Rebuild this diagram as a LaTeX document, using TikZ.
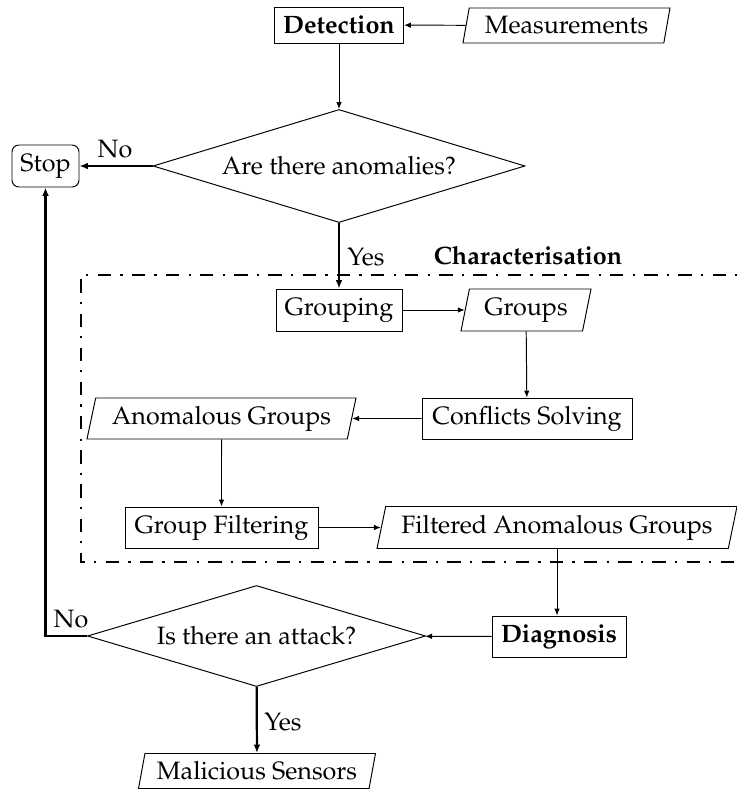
\documentclass[tikz,border=0pt]{standalone}
\usepackage[T1]{fontenc}
\usepackage{mathpazo}
\usetikzlibrary{shapes.geometric,arrows.meta}
\newcommand\figfont{\fontsize{9.05}{11}\selectfont}
\begin{document}
\begin{tikzpicture}[x=0.36pt,y=-0.36pt,
  every node/.style={font=\figfont},
  sz/.style 2 args={minimum width={#1*0.36pt}, minimum height={#2*0.36pt}},
  base/.style={draw, inner sep=0pt, line width=0.35pt},
  procbox/.style={base, rectangle},
  stopbox/.style={base, rectangle, rounded corners=2.5pt},
  iobox/.style={base, trapezium, trapezium left angle=71, trapezium right angle=109, trapezium stretches body},
  decbox/.style={base, diamond, aspect=3.3},
  flow/.style={-{Latex[length=2.5pt,width=2pt]}, line width=0.35pt},
  flowthick/.style={-{Latex[length=3pt,width=2.4pt]}, line width=0.8pt},
  lbl/.style={inner sep=0pt},
  boldtext/.style={font=\figfont\bfseries},
  charframe/.style={line width=0.8pt, dash pattern=on 4.8pt off 3.3pt on 0.8pt off 3.4pt}]
\useasboundingbox (0,0) rectangle (737,790);

% characterisation frame (right side runs off the page)
\draw[charframe] (760,275) -- (81,275) -- (81,562) -- (760,562);
\node[lbl, boldtext] (chartitle) at (528,256) {Characterisation};

\node[procbox, sz={129}{36}, boldtext] (det) at (339,25) {Detection};
\node[iobox, sz={207}{35}] (meas) at (566.5,25.5) {Measurements};
\node[decbox, sz={372}{113}] (anom) at (339,166) {Are there anomalies?};
\node[stopbox, sz={67}{42}] (stop) at (45.5,166) {Stop};

\node[procbox, sz={126}{42}] (grp) at (339,310) {Grouping};
\node[iobox, sz={130}{42}] (groups) at (526,310) {Groups};
\node[procbox, sz={210}{41}] (conf) at (527,418.5) {Conflicts Solving};
\node[iobox, sz={269}{41}] (ag) at (221.5,418.5) {Anomalous Groups};
\node[procbox, sz={193}{41}] (gf) at (221.5,527.5) {Group Filtering};
\node[iobox, sz={360}{42}] (fag) at (557,527.5) {Filtered Anomalous Groups};

\node[procbox, sz={134}{41}, boldtext] (diag) at (559,636.5) {Diagnosis};
\node[decbox, sz={338}{101}] (att) at (256.5,636) {Is there an attack?};
\node[iobox, sz={237}{35}] (mal) at (257,771) {Malicious Sensors};

\node[lbl] (noA) at (115,149) {No};
\node[lbl] (yesA) at (366,257) {Yes};
\node[lbl] (noB) at (71,619) {No};
\node[lbl] (yesB) at (283,722) {Yes};

\draw[flow] (meas) -- (det);
\draw[flow] (det) -- (anom);
\draw[flowthick] (anom) -- (stop);
\draw[flowthick] (anom) -- (grp);
\draw[flow] (grp) -- (groups);
\draw[flow] (groups) -- (conf);
\draw[flow] (conf) -- (ag);
\draw[flow] (ag) -- (gf);
\draw[flow] (gf) -- (fag);
\draw[flow] (fag.south) -- (fag.south |- diag.north);
\draw[flow] (diag) -- (att);
\draw[flowthick] (att.west) -| (stop.south);
\draw[flowthick] (att) -- (mal);
\end{tikzpicture}
\end{document}
